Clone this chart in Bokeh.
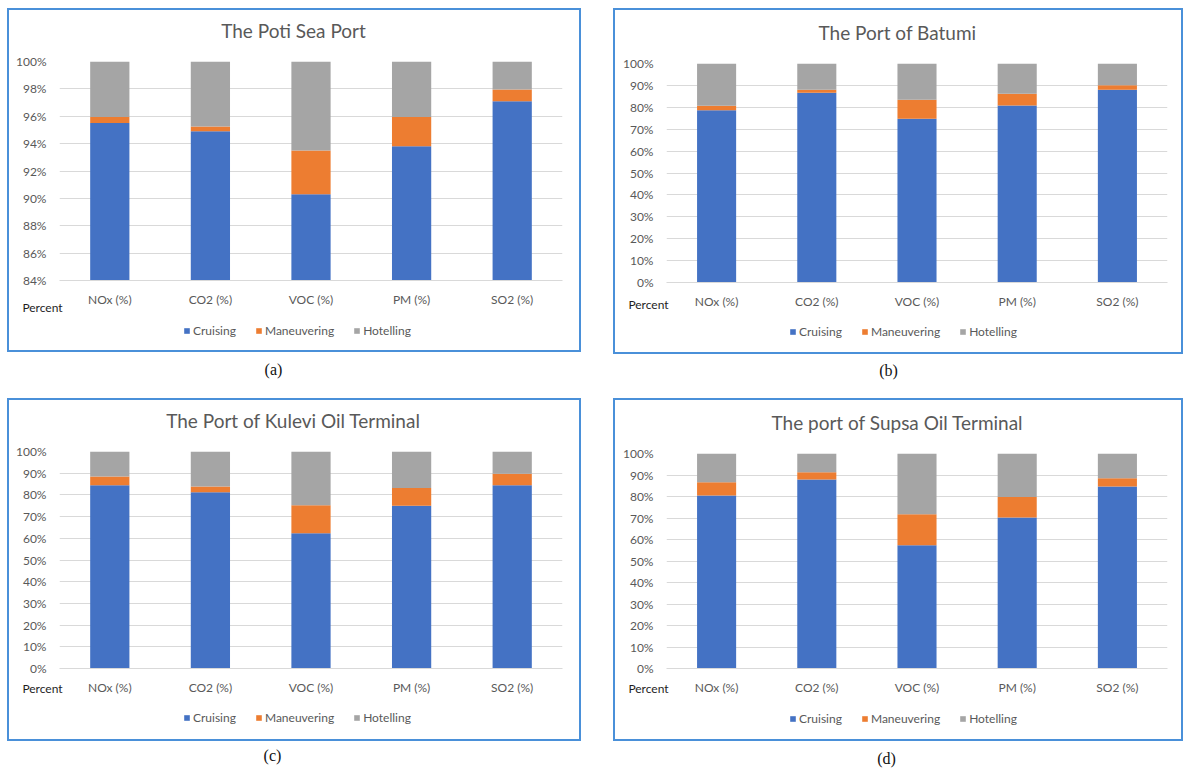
from bokeh.plotting import figure
from bokeh.models import (ColumnDataSource, FactorRange, Range1d, FixedTicker, PrintfTickFormatter,
                          Legend, LegendItem, Spacer)
from bokeh.layouts import column, row
from bokeh.embed import file_html
from bokeh.resources import INLINE
from bokeh.core.properties import value

# ---------------- data ----------------
categories = ["NOx (%)", "CO2 (%)", "VOC (%)", "PM (%)", "SO2 (%)"]
modes = ["Cruising", "Maneuvering", "Hotelling"]
mode_colors = ["#4472C4", "#ED7D31", "#A5A5A5"]

poti_cruising = [95.5, 94.9, 90.3, 93.8, 97.1]
poti_maneuvering = [0.45, 0.35, 3.2, 2.15, 0.85]
poti_hotelling = [4.05, 4.75, 6.5, 4.05, 2.05]

batumi_cruising = [78.7, 86.7, 74.8, 80.8, 88.0]
batumi_maneuvering = [2.0, 1.3, 8.7, 5.4, 2.1]
batumi_hotelling = [19.3, 12.0, 16.5, 13.8, 9.9]

kulevi_cruising = [84.5, 81.2, 62.3, 75.0, 84.5]
kulevi_maneuvering = [4.0, 2.7, 12.9, 8.2, 5.3]
kulevi_hotelling = [11.5, 16.1, 24.8, 16.8, 10.2]

supsa_cruising = [80.5, 87.9, 57.3, 70.2, 84.6]
supsa_maneuvering = [6.1, 3.4, 14.5, 9.6, 3.9]
supsa_hotelling = [13.4, 8.7, 28.2, 20.2, 11.5]

ticks_poti = [84, 86, 88, 90, 92, 94, 96, 98, 100]
ticks_full = [0, 10, 20, 30, 40, 50, 60, 70, 80, 90, 100]

titles = ["The Poti Sea Port", "The Port of Batumi",
          "The Port of Kulevi Oil Terminal", "The port of Supsa Oil Terminal"]
captions = ["(a)", "(b)", "(c)", "(d)"]

FONT = "Lato"
TXT = "#595959"
GRID = "#D9D9D9"
FRAME = "#4A90D9"
NAN = float("nan")


def blank_fig(w, h):
    f = figure(width=w, height=h, x_range=Range1d(0, w), y_range=Range1d(0, h),
               x_axis_type=None, y_axis_type=None, output_backend="svg",
               toolbar_location=None, min_border=0)
    f.outline_line_color = None
    f.background_fill_color = None
    f.border_fill_color = None
    if "frame_align" in f.properties():
        f.frame_align = False
    return f


def make_panel(title, cruising, maneuvering, hotelling, y_start, y_ticks,
               Wi, left, right, top, frame_h, title_y, pct_y, leg_h, leg_y):
    # --- title strip ---
    tf = blank_fig(Wi, 40)
    tf.text(x=[Wi / 2 - 1], y=[title_y], text=[title], text_align="center",
            text_baseline="middle", text_font=value(FONT), text_font_size="19px",
            text_color=TXT)

    # --- chart ---
    p = figure(x_range=FactorRange(*categories), y_range=Range1d(y_start, 100),
               width=Wi, height=top + frame_h + 26, output_backend="svg",
               toolbar_location=None, title=None,
               min_border_left=left, min_border_right=right,
               min_border_top=top, min_border_bottom=26)
    src = ColumnDataSource(dict(cat=categories, Cruising=cruising,
                                Maneuvering=maneuvering, Hotelling=hotelling))
    p.vbar_stack(modes, x="cat", width=0.39, color=mode_colors,
                 line_color=None, source=src)

    p.outline_line_color = None
    p.xgrid.grid_line_color = None
    p.ygrid.grid_line_color = GRID
    p.ygrid.grid_line_width = 1

    p.yaxis.ticker = FixedTicker(ticks=y_ticks)
    p.yaxis.formatter = PrintfTickFormatter(format="%d%%")
    p.yaxis.axis_line_color = None
    p.yaxis.major_tick_line_color = None
    p.yaxis.minor_tick_line_color = None
    p.yaxis.major_tick_out = 0
    p.yaxis.major_tick_in = 0
    p.yaxis.major_label_standoff = 13
    p.yaxis.major_label_text_font = FONT
    p.yaxis.major_label_text_font_size = "12px"
    p.yaxis.major_label_text_color = TXT

    p.xaxis.axis_line_color = GRID
    p.xaxis.major_tick_line_color = None
    p.xaxis.minor_tick_line_color = None
    p.xaxis.major_tick_out = 0
    p.xaxis.major_tick_in = 0
    p.xaxis.major_label_standoff = 11
    p.xaxis.major_label_text_font = FONT
    p.xaxis.major_label_text_font_size = "12px"
    p.xaxis.major_label_text_color = TXT

    # --- legend strip (overlaps the axis strip slightly, transparent) ---
    lf = blank_fig(Wi, leg_h)
    lf.margin = (-20, 0, 0, 0)
    lf.text(x=[33], y=[pct_y], text=["Percent"], text_align="center",
            text_baseline="middle", text_font=value(FONT), text_font_size="12px",
            text_color="#1E1E1E")
    # legend swatches (no visible marks of their own)
    proxies = [lf.rect(x=[NAN], y=[NAN], width=1, height=1, fill_color=c, line_color=None)
               for c in mode_colors]
    legend = Legend(items=[LegendItem(label=m, renderers=[r]) for m, r in zip(modes, proxies)],
                    orientation="horizontal", location=(174, leg_y),
                    padding=0, margin=0, spacing=19, label_standoff=3,
                    glyph_width=7, glyph_height=7, label_height=14,
                    label_text_font=FONT, label_text_font_size="12px",
                    label_text_color=TXT, border_line_color=None,
                    background_fill_alpha=0)
    lf.add_layout(legend)

    return column(tf, p, lf, styles={"border": "2px solid " + FRAME})


pa = make_panel(titles[0], poti_cruising, poti_maneuvering, poti_hotelling, 84, ticks_poti,
                570, 50, 17, 11, 222, 20, 43, 61, 12)
pb = make_panel(titles[1], batumi_cruising, batumi_maneuvering, batumi_hotelling, 0, ticks_full,
                566, 51, 14, 13, 222, 18, 48, 61, 13)
pc = make_panel(titles[2], kulevi_cruising, kulevi_maneuvering, kulevi_hotelling, 0, ticks_full,
                570, 50, 17, 11, 220, 20, 51, 62, 14)
pd = make_panel(titles[3], supsa_cruising, supsa_maneuvering, supsa_hotelling, 0, ticks_full,
                566, 51, 14, 13, 218, 18, 51, 62, 13)


def caption_fig(h, texts, xs, ys):
    c = blank_fig(1183, h)
    c.text(x=xs, y=ys, text=texts, text_align="center", text_baseline="middle",
           text_font=value("Liberation Serif"), text_font_size="16px", text_color="#111111")
    return c


cap1 = caption_fig(44, captions[:2], [273, 888], [29, 28])
cap2 = caption_fig(27, captions[2:], [272, 886], [13, 10])

layout = column(
    Spacer(height=8, width=1183),
    row(Spacer(width=7), pa, Spacer(width=32), pb),
    cap1,
    row(Spacer(width=7), pc, Spacer(width=32), pd),
    cap2,
)

open("out.html", "w").write(file_html(layout, INLINE))
